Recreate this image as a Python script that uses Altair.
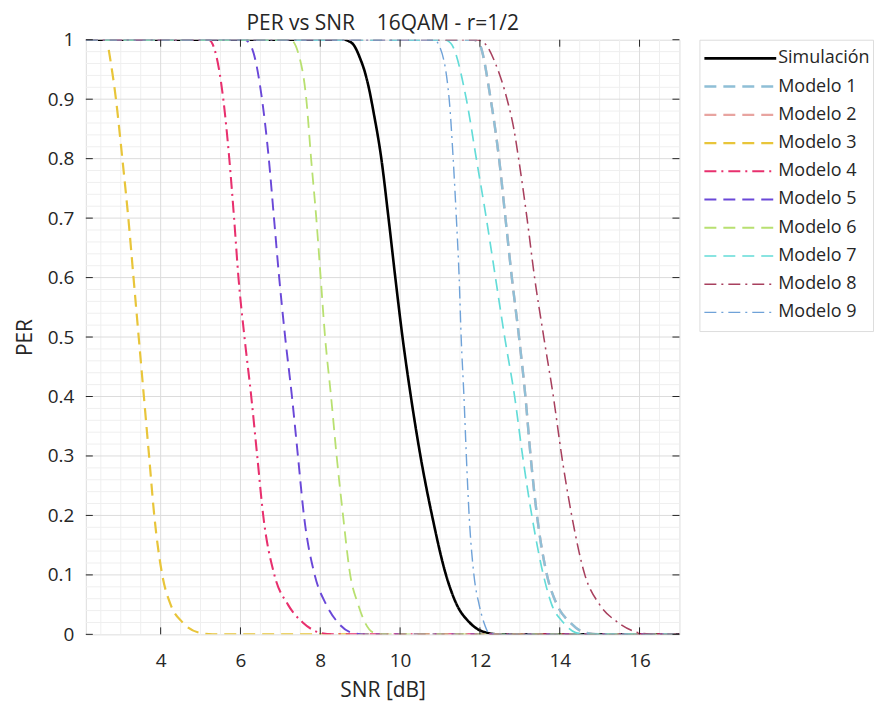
import altair as alt
import pandas as pd
import numpy as np

# ---------------- data ----------------
NAMES = ["Simulación", "Modelo 1", "Modelo 2", "Modelo 3", "Modelo 4",
         "Modelo 5", "Modelo 6", "Modelo 7", "Modelo 8", "Modelo 9"]
COLORS = ["#000000", "#8fbfd6", "#e8a4a0", "#e8c53a", "#e8306e",
          "#6a48d8", "#b8e070", "#63dcd8", "#a8405e", "#6fa2d8"]
DASHES = [[1, 0], [12, 7], [12, 7], [12, 7], [12, 5, 2, 5],
          [12, 7], [12, 7], [12, 7], [12, 5, 2, 5], [12, 5, 2, 5]]
WIDTHS = [2.6, 1.4, 1.4, 1.4, 1.4, 1.4, 1.4, 1.4, 1.4, 1.4]

SIM_SNR = [2.125, 8.6, 8.70, 8.85, 8.99, 9.12, 9.23, 9.33, 9.53, 9.71, 9.88, 10.06, 10.27, 10.51, 10.80, 11.15, 11.42, 11.74, 12.06, 12.47, 17.0]
SIM_PER = [1.0, 1.0, 0.998, 0.99, 0.97, 0.945, 0.915, 0.88, 0.8, 0.7, 0.6, 0.5, 0.4, 0.3, 0.2, 0.1, 0.05, 0.02, 0.005, 0.0, 0.0]

M1_SNR = [2.125, 11.85, 11.98, 12.27, 12.48, 12.64, 12.80, 12.98, 13.14, 13.27, 13.43, 13.68, 13.93, 14.26, 14.63, 15.0, 17.0]
M1_PER = [1.0, 1.0, 0.994, 0.9, 0.8, 0.7, 0.6, 0.5, 0.4, 0.3, 0.2, 0.1, 0.05, 0.02, 0.003, 0.0, 0.0]

M2_SNR = [2.125, 11.85, 11.98, 12.27, 12.48, 12.64, 12.80, 12.98, 13.14, 13.27, 13.43, 13.68, 13.93, 14.26, 14.63, 15.0, 17.0]
M2_PER = [1.0, 1.0, 0.994, 0.9, 0.8, 0.7, 0.6, 0.5, 0.4, 0.3, 0.2, 0.1, 0.05, 0.02, 0.003, 0.0, 0.0]

M3_SNR = [2.70, 2.88, 3.04, 3.19, 3.32, 3.45, 3.58, 3.71, 3.84, 4.04, 4.25, 4.55, 4.95, 5.3, 17.0]
M3_PER = [0.983, 0.9, 0.8, 0.7, 0.6, 0.5, 0.4, 0.3, 0.2, 0.1, 0.05, 0.02, 0.003, 0.0, 0.0]

M4_SNR = [2.125, 5.2, 5.34, 5.57, 5.72, 5.84, 5.95, 6.10, 6.27, 6.42, 6.57, 6.85, 7.19, 7.56, 8.03, 8.3, 17.0]
M4_PER = [1.0, 1.0, 0.986, 0.9, 0.8, 0.7, 0.6, 0.5, 0.4, 0.3, 0.2, 0.1, 0.05, 0.02, 0.002, 0.0, 0.0]

M5_SNR = [2.125, 6.1, 6.26, 6.54, 6.71, 6.84, 6.97, 7.12, 7.29, 7.44, 7.59, 7.86, 8.15, 8.44, 8.82, 9.1, 17.0]
M5_PER = [1.0, 1.0, 0.99, 0.9, 0.8, 0.7, 0.6, 0.5, 0.4, 0.3, 0.2, 0.1, 0.05, 0.02, 0.002, 0.0, 0.0]

M6_SNR = [2.125, 7.25, 7.48, 7.65, 7.77, 7.90, 8.01, 8.12, 8.27, 8.41, 8.57, 8.75, 8.95, 9.12, 9.33, 9.6, 17.0]
M6_PER = [1.0, 1.0, 0.97, 0.9, 0.8, 0.7, 0.6, 0.5, 0.4, 0.3, 0.2, 0.1, 0.05, 0.02, 0.003, 0.0, 0.0]

M7_SNR = [2.125, 11.1, 11.27, 11.66, 11.91, 12.16, 12.39, 12.62, 12.87, 13.07, 13.30, 13.59, 13.80, 14.09, 14.40, 14.8, 17.0]
M7_PER = [1.0, 1.0, 0.994, 0.9, 0.8, 0.7, 0.6, 0.5, 0.4, 0.3, 0.2, 0.1, 0.05, 0.02, 0.003, 0.0, 0.0]

M8_SNR = [2.125, 11.9, 12.1, 12.39, 12.55, 12.68, 12.85, 12.97, 13.18, 13.37, 13.60, 13.84, 14.05, 14.30, 14.63, 15.0, 15.46, 16.04, 16.4, 17.0]
M8_PER = [1.0, 1.0, 0.995, 0.96, 0.93, 0.9, 0.85, 0.8, 0.7, 0.6, 0.5, 0.4, 0.3, 0.2, 0.1, 0.05, 0.02, 0.002, 0.0, 0.0]

M9_SNR = [2.125, 10.85, 10.98, 11.23, 11.33, 11.41, 11.48, 11.53, 11.60, 11.66, 11.73, 11.85, 11.98, 12.10, 12.22, 12.4, 17.0]
M9_PER = [1.0, 1.0, 0.99, 0.9, 0.8, 0.7, 0.6, 0.5, 0.4, 0.3, 0.2, 0.1, 0.05, 0.02, 0.003, 0.0, 0.0]

X_TICKS = [4, 6, 8, 10, 12, 14, 16]
Y_TICKS = [0, 0.1, 0.2, 0.3, 0.4, 0.5, 0.6, 0.7, 0.8, 0.9, 1.0]
X_DOMAIN = [2.125, 17.0]
TITLE = "PER vs SNR\u00a0\u00a0\u00a0\u00a016QAM - r=1/2"

# ---------------- build tables ----------------
series = [SIM_SNR, M1_SNR, M2_SNR, M3_SNR, M4_SNR, M5_SNR, M6_SNR, M7_SNR, M8_SNR, M9_SNR]
values = [SIM_PER, M1_PER, M2_PER, M3_PER, M4_PER, M5_PER, M6_PER, M7_PER, M8_PER, M9_PER]
frames = []
for name, xs_, ys_ in zip(NAMES, series, values):
    frames.append(pd.DataFrame({"name": name, "snr": xs_, "per": ys_}))
df = pd.concat(frames, ignore_index=True)

W, H = 595, 596
FONT = "Open Sans"
TXT = "#262626"

x_minor = [v for v in np.arange(2.5, 17.0, 0.5) if v not in X_TICKS]
y_minor = [round(v, 2) for v in np.arange(0.02, 1.0, 0.02) if round(v * 10, 6) != round(v * 10)]

color_scale = alt.Scale(domain=NAMES, range=COLORS)
dash_scale = alt.Scale(domain=NAMES, range=DASHES)
width_scale = alt.Scale(domain=NAMES, range=WIDTHS)
xs = alt.Scale(domain=X_DOMAIN, nice=False, zero=False)
ys = alt.Scale(domain=[0, 1], nice=False, zero=False)

minor_x = alt.Chart(pd.DataFrame({"v": x_minor})).mark_rule(color="#efefef", strokeWidth=1).encode(
    x=alt.X("v:Q", scale=xs))
minor_y = alt.Chart(pd.DataFrame({"v": y_minor})).mark_rule(color="#efefef", strokeWidth=1).encode(
    y=alt.Y("v:Q", scale=ys))
major_x = alt.Chart(pd.DataFrame({"v": X_TICKS})).mark_rule(color="#dcdcdc", strokeWidth=1).encode(
    x=alt.X("v:Q", scale=xs))
major_y = alt.Chart(pd.DataFrame({"v": Y_TICKS[1:-1]})).mark_rule(color="#dcdcdc", strokeWidth=1).encode(
    y=alt.Y("v:Q", scale=ys))

lines = []
for name in ["Simulación", "Modelo 2", "Modelo 1", "Modelo 3", "Modelo 4",
             "Modelo 5", "Modelo 6", "Modelo 7", "Modelo 8", "Modelo 9"]:
    lines.append(
        alt.Chart(df).transform_filter(alt.datum.name == name).mark_line(
            strokeCap="butt", clip=True, interpolate="monotone").encode(
            x=alt.X("snr:Q", scale=xs,
                    axis=alt.Axis(values=X_TICKS, title="SNR [dB]", grid=False, ticks=False, domain=False,
                                  labelFontSize=19, titleFontSize=21, labelFont=FONT, titleFont=FONT,
                                  labelColor=TXT, titleColor=TXT, titleFontWeight="normal",
                                  labelPadding=17, titlePadding=9)),
            y=alt.Y("per:Q", scale=ys,
                    axis=alt.Axis(values=Y_TICKS, format=".1~f", title="PER", grid=False, ticks=False,
                                  domain=False, labelFontSize=19, titleFontSize=21, labelFont=FONT,
                                  titleFont=FONT, labelColor=TXT, titleColor=TXT,
                                  titleFontWeight="normal", labelPadding=12, titlePadding=12)),
            color=alt.Color("name:N", scale=color_scale, legend=None),
            strokeDash=alt.StrokeDash("name:N", scale=dash_scale, legend=None),
            strokeWidth=alt.StrokeWidth("name:N", scale=width_scale, legend=None),
        )
    )

tick_len = 7
tb = alt.Chart(pd.DataFrame({"v": X_TICKS})).mark_rule(color=TXT, strokeWidth=1).encode(
    x=alt.X("v:Q", scale=xs), y=alt.value(H - tick_len), y2=alt.value(H))
tt = alt.Chart(pd.DataFrame({"v": X_TICKS})).mark_rule(color=TXT, strokeWidth=1).encode(
    x=alt.X("v:Q", scale=xs), y=alt.value(0), y2=alt.value(tick_len))
tl = alt.Chart(pd.DataFrame({"v": Y_TICKS})).mark_rule(color=TXT, strokeWidth=1).encode(
    y=alt.Y("v:Q", scale=ys), x=alt.value(0), x2=alt.value(tick_len))
tr = alt.Chart(pd.DataFrame({"v": Y_TICKS})).mark_rule(color=TXT, strokeWidth=1).encode(
    y=alt.Y("v:Q", scale=ys), x=alt.value(W - tick_len), x2=alt.value(W))

main = alt.layer(minor_x, minor_y, major_x, major_y, *lines, tb, tt, tl, tr).properties(
    width=W, height=H,
    title=alt.Title(TITLE, fontSize=21, font=FONT, fontWeight="normal", color=TXT, offset=-3),
)

# ---------------- legend panel ----------------
leg_df = pd.DataFrame({"name": NAMES})
leg_y = alt.Y("name:N", sort=NAMES, axis=None,
              scale=alt.Scale(domain=NAMES, type="point", padding=0.66))
leg_rules = alt.Chart(leg_df).mark_rule(strokeCap="butt").encode(
    y=leg_y, x=alt.value(5), x2=alt.value(77),
    color=alt.Color("name:N", scale=color_scale, legend=None),
    strokeDash=alt.StrokeDash("name:N", scale=dash_scale, legend=None),
    strokeWidth=alt.StrokeWidth("name:N", scale=width_scale, legend=None),
)
leg_text = alt.Chart(leg_df).mark_text(align="left", baseline="middle", fontSize=18, font=FONT,
                                       color=TXT).encode(
    y=leg_y, x=alt.value(79), text="name:N")
legend = alt.layer(leg_rules, leg_text).properties(width=174, height=292)

chart = alt.hconcat(main, legend, spacing=18).resolve_scale(
    x="independent", y="independent"
).properties(
    padding={"left": 5, "top": 3, "right": 0, "bottom": 0}
).configure_view(stroke="#262626", strokeWidth=1).configure(background="white")

chart.save("out.html", embed_options={"renderer": "svg", "actions": False})
